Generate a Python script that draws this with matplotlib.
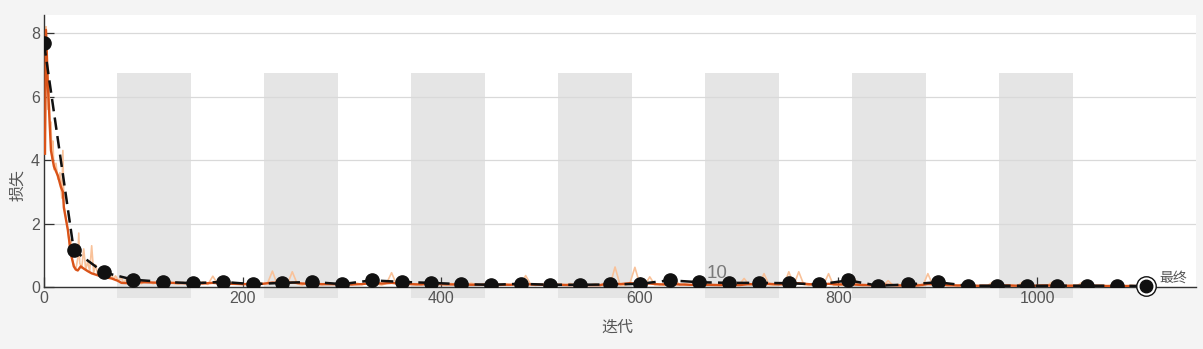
import numpy as np
import matplotlib
matplotlib.use("Agg")
import matplotlib.pyplot as plt

plt.rcParams['font.family'] = ['Liberation Sans', 'Noto Sans CJK SC', 'DejaVu Sans']

# training loss, raw values (early part read point by point)
raw_early_iter = [1, 2, 3, 4, 5, 6, 7, 8, 9, 10, 12, 14, 16, 18, 19, 20, 22, 24, 26, 27,
                  28, 30, 32, 34, 35, 36, 38, 40, 42, 44, 46, 48, 50, 52, 54, 56, 58, 60,
                  62, 64, 66, 68, 70, 72, 75, 78, 80, 83, 86, 89, 92, 95, 98]
raw_early = [4.2, 8.2, 7.0, 5.6, 6.4, 4.8, 5.2, 4.0, 4.6, 3.7, 3.9, 3.4, 3.6, 2.8, 4.3, 2.6,
             2.2, 1.8, 1.2, 1.5, 0.9, 0.7, 0.55, 0.9, 1.7, 0.75, 0.6, 1.2, 0.55, 0.8, 0.5,
             1.3, 0.45, 0.7, 0.4, 0.55, 0.35, 0.5, 0.3, 0.45, 0.28, 0.4, 0.25, 0.35, 0.2,
             0.3, 0.12, 0.25, 0.1, 0.22, 0.12, 0.18, 0.1]

# raw values from iteration 100 to 1110, every 5 iterations
raw_late = [
    0.14, 0.20, 0.10, 0.16, 0.08, 0.18, 0.12, 0.09, 0.15, 0.07, 0.13, 0.10, 0.16, 0.08, 0.34, 0.09, 0.12, 0.07, 0.14, 0.10,
    0.08, 0.12, 0.06, 0.14, 0.09, 0.11, 0.50, 0.07, 0.12, 0.08, 0.48, 0.10, 0.06, 0.13, 0.08, 0.11, 0.07, 0.12, 0.09, 0.10,
    0.06, 0.10, 0.07, 0.12, 0.08, 0.11, 0.40, 0.09, 0.06, 0.12, 0.45, 0.08, 0.11, 0.07, 0.10, 0.06, 0.13, 0.08, 0.30, 0.07,
    0.09, 0.06, 0.11, 0.07, 0.10, 0.05, 0.12, 0.08, 0.06, 0.11, 0.07, 0.09, 0.05, 0.10, 0.07, 0.12, 0.06, 0.36, 0.08, 0.05,
    0.09, 0.06, 0.10, 0.05, 0.08, 0.06, 0.11, 0.05, 0.09, 0.07, 0.06, 0.10, 0.05, 0.08, 0.06, 0.63, 0.07, 0.05, 0.12, 0.62,
    0.08, 0.06, 0.32, 0.07, 0.10, 0.05, 0.09, 0.27, 0.06, 0.10, 0.07, 0.05, 0.09, 0.06, 0.11, 0.05, 0.08, 0.06, 0.10, 0.05,
    0.07, 0.27, 0.06, 0.09, 0.05, 0.42, 0.07, 0.06, 0.10, 0.05, 0.48, 0.06, 0.48, 0.08, 0.05, 0.09, 0.06, 0.07, 0.42, 0.05,
    0.07, 0.05, 0.09, 0.32, 0.06, 0.04, 0.08, 0.05, 0.07, 0.04, 0.20, 0.05, 0.08, 0.04, 0.06, 0.05, 0.09, 0.04, 0.42, 0.06,
    0.05, 0.07, 0.04, 0.06, 0.03, 0.08, 0.04, 0.06, 0.03, 0.05, 0.04, 0.15, 0.03, 0.06, 0.04, 0.05, 0.03, 0.15, 0.04, 0.05,
    0.03, 0.06, 0.04, 0.15, 0.03, 0.05, 0.04, 0.06, 0.03, 0.14, 0.04, 0.05, 0.03, 0.06, 0.04, 0.05, 0.03, 0.06, 0.04, 0.05,
    0.03, 0.05, 0.03,
]
raw_late_iter = list(range(100, 1111, 5))

# smoothed training loss
smooth_early_iter = [1, 2, 4, 7, 10, 14, 17, 19, 20, 24, 27, 30, 32, 34, 37, 40, 44, 48, 53,
                     58, 63, 68, 74, 78, 85, 92]
smooth_early = [4.2, 8.1, 6.3, 4.3, 3.8, 3.5, 3.15, 3.0, 2.5, 1.8, 1.06, 0.65, 0.55, 0.52,
                0.65, 0.58, 0.5, 0.43, 0.38, 0.33, 0.3, 0.27, 0.2, 0.13, 0.12, 0.14]
smooth_late = [
    0.15, 0.14, 0.13, 0.13, 0.12, 0.12, 0.11, 0.13, 0.11, 0.10,
    0.09, 0.09, 0.10, 0.14, 0.12, 0.14, 0.11, 0.10, 0.09, 0.09,
    0.08, 0.08, 0.09, 0.13, 0.11, 0.13, 0.10, 0.09, 0.08, 0.11,
    0.09, 0.08, 0.08, 0.07, 0.07, 0.08, 0.07, 0.07, 0.10, 0.08,
    0.07, 0.07, 0.07, 0.06, 0.07, 0.06, 0.06, 0.13, 0.09, 0.12,
    0.10, 0.11, 0.08, 0.09, 0.08, 0.07, 0.07, 0.07, 0.06, 0.07,
    0.06, 0.09, 0.08, 0.10, 0.08, 0.11, 0.12, 0.09, 0.07, 0.10,
    0.08, 0.09, 0.07, 0.06, 0.06, 0.07, 0.05, 0.05, 0.05, 0.09,
    0.08, 0.06, 0.05, 0.05, 0.04, 0.04, 0.04, 0.05, 0.04, 0.04,
    0.04, 0.05, 0.04, 0.04, 0.04, 0.04, 0.04, 0.03, 0.03, 0.03,
    0.03, 0.03,
]
smooth_late_iter = list(range(100, 1111, 10))

# validation loss, every 30 iterations
val_iter = list(range(0, 1111, 30))
val_loss = [7.68, 1.16, 0.46, 0.23, 0.16, 0.12, 0.16, 0.09, 0.13, 0.16, 0.09, 0.21, 0.16,
            0.13, 0.09, 0.07, 0.10, 0.07, 0.07, 0.08, 0.10, 0.21, 0.15, 0.13, 0.13, 0.12,
            0.08, 0.21, 0.04, 0.08, 0.15, 0.04, 0.04, 0.04, 0.04, 0.04, 0.04, 0.03]

iters_per_epoch = 74
n_epochs = 15
epoch_label = '10'

raw_iter = raw_early_iter + raw_late_iter
raw_loss = raw_early + raw_late
smooth_iter = smooth_early_iter + smooth_late_iter
smooth_loss = smooth_early + smooth_late

cjk = ['Noto Sans CJK SC', 'DejaVu Sans']

fig = plt.figure(figsize=(12.03, 3.49), dpi=100, facecolor='#f4f4f4')
ax = fig.add_axes([44 / 1203, 1 - 287 / 349, (1196 - 44) / 1203, (287 - 15) / 349])
ax.set_facecolor('white')

# shaded alternate epochs, reaching a little below the axis
epoch_starts = np.arange(n_epochs) * iters_per_epoch
shaded = epoch_starts[1::2]
ax.bar(shaded, 6.74 + 0.35, bottom=-0.35, width=iters_per_epoch, align='edge',
       color='#e5e5e5', linewidth=0, zorder=0.5, clip_on=False)

ax.plot(raw_iter, raw_loss, color='#f9c29a', lw=1.2, zorder=2)
ax.plot(smooth_iter, smooth_loss, color='#d95319', lw=1.7, zorder=3)
ax.plot(val_iter, val_loss, color='#111111', lw=1.8, ls=(0, (5, 2.5)), zorder=4,
        marker='o', markersize=9.5, markerfacecolor='#111111', markeredgecolor='#111111')
# final validation point
ax.plot(val_iter[-1], val_loss[-1], 'o', markersize=14, markerfacecolor='white',
        markeredgecolor='#111111', markeredgewidth=1.0, zorder=5, clip_on=False)
ax.plot(val_iter[-1], val_loss[-1], 'o', markersize=9, color='#111111', zorder=6, clip_on=False)

ax.text(epoch_starts[10 - 1] + 1, 0.27, epoch_label, color='#7a7a7a', fontsize=13.5,
        ha='left', va='baseline', zorder=6)
ax.text(val_iter[-1] + 13, 0.3, '最终', color='#555555', fontsize=10,
        ha='left', va='center', family=cjk)

ax.set_xlim(0, 1160)
ax.set_ylim(0, 8.57)
ax.set_xticks([0, 200, 400, 600, 800, 1000])
ax.set_yticks([0, 2, 4, 6, 8])
ax.yaxis.grid(True, color='#d9d9d9', lw=0.9)
ax.xaxis.grid(False)
for side in ['top', 'right']:
    ax.spines[side].set_visible(False)
for side in ['left', 'bottom']:
    ax.spines[side].set_color('#333333')
    ax.spines[side].set_linewidth(1.0)
ax.tick_params(direction='in', length=7, width=0.9, color='#333333',
               labelcolor='#555555', labelsize=11.5, pad=3)

ax.set_xlabel('迭代', fontsize=11.5, color='#555555', family=cjk, va='center')
ax.set_ylabel('损失', fontsize=11.5, color='#555555', family=cjk, va='center')
ax.xaxis.set_label_coords(0.498, -0.147)
ax.yaxis.set_label_coords(-0.0226, 0.375)

fig.savefig('out.png', dpi=100, facecolor=fig.get_facecolor())
